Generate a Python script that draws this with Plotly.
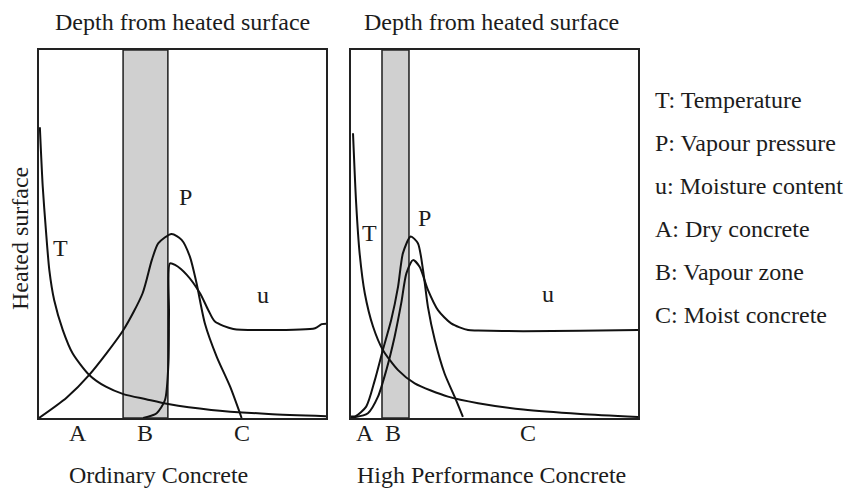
import plotly.graph_objects as go

# ---------------- data (schematic, 0-100 units per panel) ----------------
# Ordinary concrete (left panel)
oc_T_x = [0.3, 1.3, 2.4, 3.6, 5.3, 8.3, 11.7, 17.5, 23.3, 29.4, 37.3, 45, 60, 80, 100]
oc_T_y = [79.0, 62.9, 51.1, 40.2, 32.0, 23.9, 17.6, 11.7, 8.5, 6.5, 5.1, 3.8, 2.2, 1.1, 0.5]
oc_P_x = [0, 9.6, 17.5, 29.4, 36.1, 39.3, 41.6, 46.2, 49.7, 52.6, 54.9, 57.8, 61.9, 66.6, 70.6]
oc_P_y = [0, 5.5, 11.7, 23.9, 33.9, 42.9, 47.5, 50, 48.4, 43.8, 36.6, 25.7, 16.7, 8.5, 0]
oc_u_x = [36.3, 41, 43.9, 45.1, 45.3, 45.6, 47.4, 51.5, 56.1, 59, 61.3, 67.7, 79.3, 96.2, 98.5, 100]
oc_u_y = [0, 1.3, 4.9, 14.9, 28.4, 42, 41.6, 38.9, 33.9, 29.3, 26.2, 24.2, 23.9, 24.4, 25.5, 25.6]
oc_band = [29.3, 44.9]

# High performance concrete (right panel)
hp_T_x = [0.7, 1.8, 3.0, 4.8, 7.7, 11.1, 16.4, 22.2, 33.8, 44.3, 60, 80, 100]
hp_T_y = [77.4, 58.3, 44.8, 33.9, 24.8, 18.5, 13.0, 9.4, 5.8, 4.0, 2.3, 1.1, 0.3]
hp_P_x = [0, 1.6, 5.3, 8.3, 11.1, 14.0, 16.4, 18.1, 20.8, 23.3, 25.1, 26.8, 29.2, 32.6, 36.1, 39.0]
hp_P_y = [0.4, 0.5, 3.1, 10.3, 18.5, 26.6, 35.7, 44.8, 49.3, 47.5, 40.2, 30.2, 21.2, 12.1, 5.8, 0.3]
hp_u_x = [0, 1.6, 5.9, 9.4, 12.3, 15.2, 17.5, 19.3, 21.6, 23.9, 26.8, 30.3, 34.9, 40.8, 44.3, 60, 80, 100]
hp_u_y = [0.3, 0.3, 1.3, 5.8, 13.0, 22.1, 31.2, 39.3, 42.9, 41.1, 34.8, 29.3, 25.7, 23.9, 23.8, 23.6, 23.7, 23.9]
hp_band = [10.8, 20.2]

# curve label positions (data units)
oc_curve_labels = [("T", 7.6, 46.2), ("P", 51.2, 60.1), ("u", 78.0, 33.4)]
hp_curve_labels = [("T", 6.5, 50.2), ("P", 25.6, 54.3), ("u", 68.6, 33.7)]
# zone labels (x positions, data units)
oc_zone_labels = [("A", 13.6), ("B", 36.9), ("C", 70.7)]
hp_zone_labels = [("A", 4.9), ("B", 14.6), ("C", 61.7)]

top_titles = ["Depth from heated surface", "Depth from heated surface"]
bottom_titles = ["Ordinary Concrete", "High Performance Concrete"]
y_title = "Heated surface"
legend_lines = ["T: Temperature", "P: Vapour pressure", "u: Moisture content",
                "A: Dry concrete", "B: Vapour zone", "C: Moist concrete"]

# ---------------- figure ----------------
W, H = 846, 489
FONT = "Liberation Serif, Times New Roman, serif"
TXT = "#1c1c1c"
FS = 24


def px(x):
    return x / W


def py(y):
    return 1 - y / H


fig = go.Figure()
line_style = dict(color="#111111", width=2, shape="spline", smoothing=0.7)

for xs, ys in [(oc_T_x, oc_T_y), (oc_P_x, oc_P_y), (oc_u_x, oc_u_y)]:
    fig.add_trace(go.Scatter(x=xs, y=ys, mode="lines", line=line_style,
                             xaxis="x", yaxis="y", showlegend=False, hoverinfo="skip"))
for xs, ys in [(hp_T_x, hp_T_y), (hp_P_x, hp_P_y), (hp_u_x, hp_u_y)]:
    fig.add_trace(go.Scatter(x=xs, y=ys, mode="lines", line=line_style,
                             xaxis="x2", yaxis="y2", showlegend=False, hoverinfo="skip"))

shapes = []
for band, xr, yr in [(oc_band, "x", "y"), (hp_band, "x2", "y2")]:
    shapes.append(dict(type="rect", xref=xr, yref=yr, x0=band[0], x1=band[1], y0=0, y1=100,
                       fillcolor="#d0d0d0", line=dict(color="#2a2a2a", width=1.6), layer="below"))

annotations = []


def add_text(text, x, y, xref="paper", yref="paper", xanchor="center", size=FS, angle=0):
    annotations.append(dict(text=text, x=x, y=y, xref=xref, yref=yref, showarrow=False,
                            xanchor=xanchor, yanchor="middle", textangle=angle,
                            font=dict(family=FONT, size=size, color=TXT)))


for lbls, xr, yr in [(oc_curve_labels, "x", "y"), (hp_curve_labels, "x2", "y2")]:
    for t, x, y in lbls:
        add_text(t, x, y, xref=xr, yref=yr)
for lbls, xr in [(oc_zone_labels, "x"), (hp_zone_labels, "x2")]:
    for t, x in lbls:
        add_text(t, x, py(433), xref=xr, yref="paper")

for t, cx in zip(top_titles, [182, 491]):
    add_text(t, px(cx), py(22))
for t, cx in zip(bottom_titles, [158, 492]):
    add_text(t, px(cx), py(475))
add_text(y_title, px(20), py(239), angle=-90)
for i, t in enumerate(legend_lines):
    add_text(t, px(653), py(100 + 43 * i), xanchor="left")

axis_common = dict(range=[0, 100], showgrid=False, zeroline=False, showticklabels=False,
                   ticks="", showline=True, mirror=True, linecolor="#222222", linewidth=2,
                   fixedrange=True)

fig.update_layout(
    width=W, height=H,
    margin=dict(l=0, r=0, t=0, b=0),
    paper_bgcolor="white", plot_bgcolor="white",
    xaxis=dict(domain=[px(39), px(326)], anchor="y", **axis_common),
    yaxis=dict(domain=[py(418), py(50)], anchor="x", **axis_common),
    xaxis2=dict(domain=[px(351), px(638)], anchor="y2", **axis_common),
    yaxis2=dict(domain=[py(418), py(50)], anchor="x2", **axis_common),
    shapes=shapes,
    annotations=annotations,
    showlegend=False,
)

fig.write_html("out.html", config={"displayModeBar": False},
               post_script="document.body.style.margin='0';document.body.style.overflow='hidden';")
